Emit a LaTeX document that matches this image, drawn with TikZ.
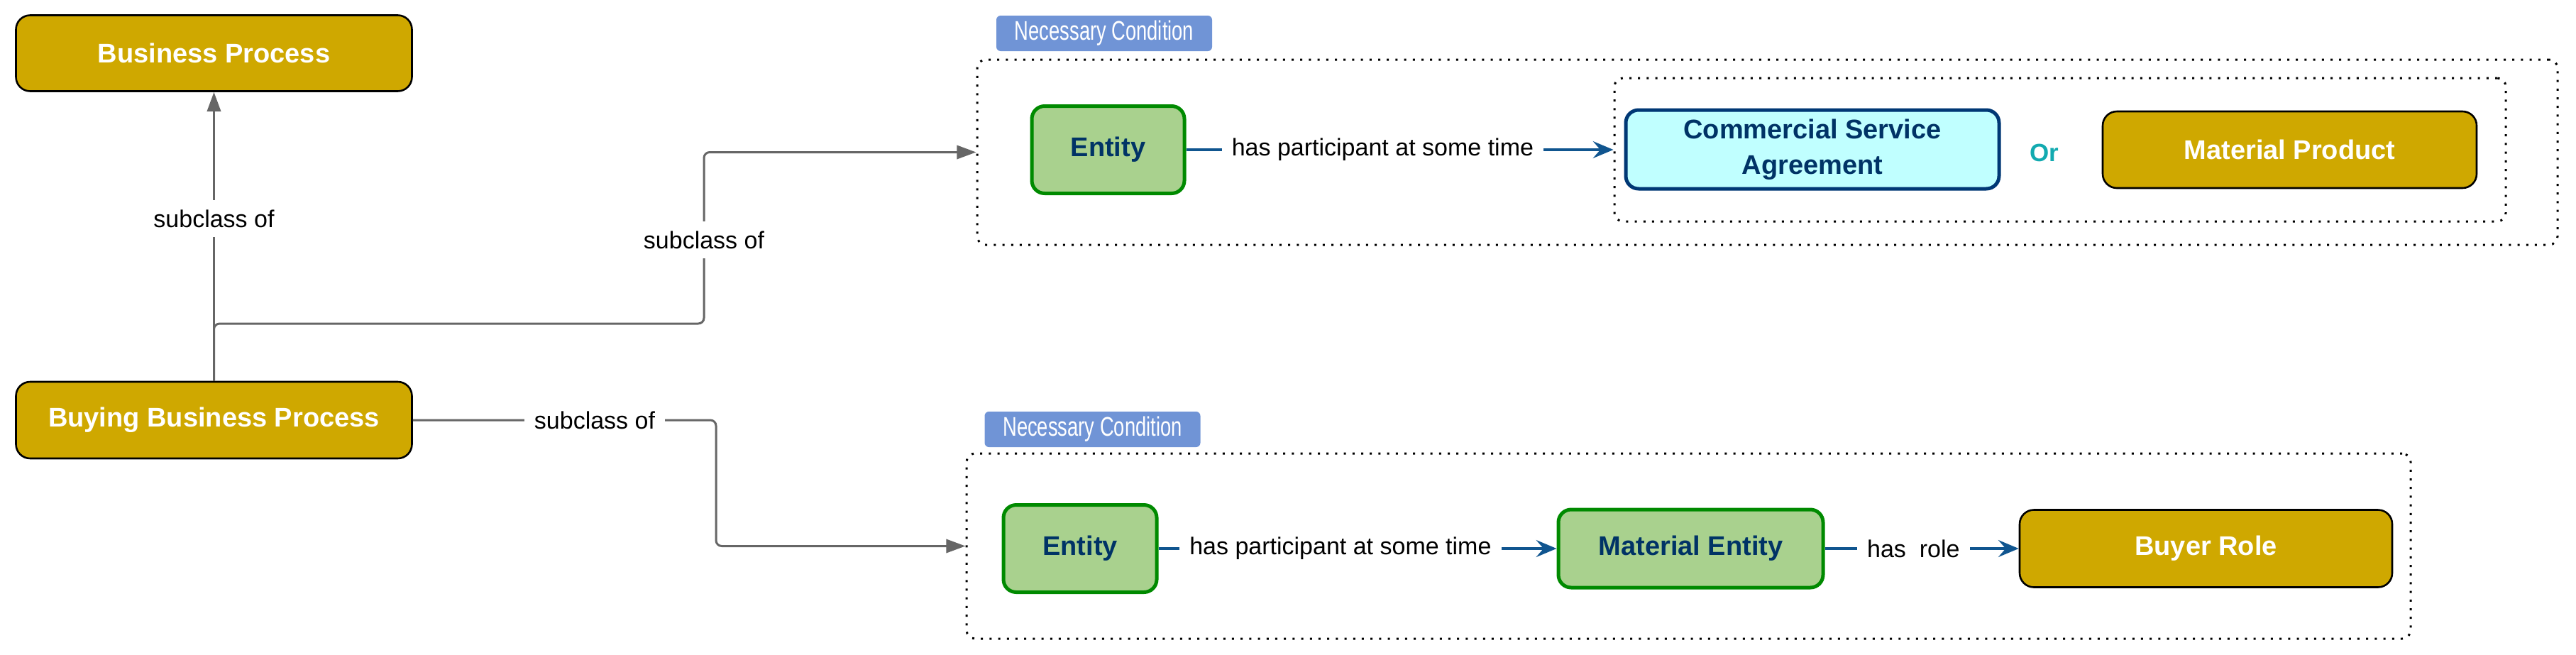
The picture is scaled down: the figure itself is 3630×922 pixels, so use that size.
\documentclass[tikz,border=0pt]{standalone}
\usepackage{fontspec}
\setmainfont{Liberation Sans}
\newfontfamily\condfont[FakeStretch=0.72]{Liberation Sans}
\usetikzlibrary{arrows.meta}
\definecolor{gold}{HTML}{CFA800}
\definecolor{entgreen}{HTML}{008A00}
\definecolor{entfill}{HTML}{A9D18E}
\definecolor{navy}{HTML}{003366}
\definecolor{csafill}{HTML}{C0FFFF}
\definecolor{csaborder}{HTML}{003875}
\definecolor{ncblue}{HTML}{7094D6}
\definecolor{arrowgray}{HTML}{666666}
\definecolor{arrowblue}{HTML}{10558F}
\definecolor{orteal}{HTML}{12AAB0}
\tikzset{
  boxfont/.style={font=\bfseries\fontsize{9.5}{12.5}\selectfont},
  goldbox/.style={draw=black, line width=0.65pt, fill=gold, rounded corners=5pt, text=white, boxfont, inner sep=0pt},
  greenbox/.style={draw=entgreen, line width=1.25pt, fill=entfill, rounded corners=4.5pt, text=navy, boxfont, inner sep=0pt},
  csabox/.style={draw=csaborder, line width=1.25pt, fill=csafill, rounded corners=4.5pt, text=navy, boxfont, align=center, inner sep=0pt},
  dotbox/.style={draw=black, line width=0.75pt, dash pattern=on 0.75pt off 2.3pt, rounded corners=3pt, inner sep=0pt},
  nclabel/.style={fill=ncblue, rounded corners=1.5pt, text=white, font=\condfont\fontsize{9.5}{11}\selectfont, inner sep=0pt},
  grayarrow/.style={draw=arrowgray, line width=0.75pt, -{Triangle[width=4.8pt,length=6.8pt]}, rounded corners=2pt},
  bluearrow/.style={draw=arrowblue, line width=0.8pt, -{Stealth[width=6pt,length=7.2pt,inset=2.6pt]}},
  lbl/.style={fill=white, text=black, font=\fontsize{8.5}{10}\selectfont, inner sep=3.5pt}
}
\begin{document}
\begin{tikzpicture}[x=0.25pt,y=-0.25pt]
\useasboundingbox (0,0) rectangle (3630,922);
% dotted groups
\node[dotbox, minimum width=556.75pt, minimum height=65.25pt] (nc1) at (2490.5,214.5) {};
\node[dotbox, minimum width=314pt, minimum height=50.5pt] (inner) at (2903,211) {};
\node[dotbox, minimum width=508.75pt, minimum height=65.25pt] (nc2) at (2379.5,769.5) {};
\node[nclabel, minimum width=76pt, minimum height=12.5pt] (nc1lbl) at (1556,47) {Necessary Condition};
\node[nclabel, minimum width=76pt, minimum height=12.5pt] (nc2lbl) at (1539.5,605) {Necessary Condition};
% boxes
\node[goldbox, minimum width=139.5pt, minimum height=26.75pt] (bp) at (301.5,75) {Business Process};
\node[goldbox, minimum width=139.5pt, minimum height=27pt] (bbp) at (301.5,592) {Buying Business Process};
\node[greenbox, minimum width=53.75pt, minimum height=30.75pt] (ent1) at (1561.5,211) {Entity};
\node[csabox, minimum width=131.5pt, minimum height=27.75pt] (csa) at (2554,210.5) {Commercial Service\\Agreement};
\node[text=orteal, font=\bfseries\fontsize{8.75}{10}\selectfont, inner sep=0pt] (or) at (2881,215) {Or};
\node[goldbox, minimum width=131.75pt, minimum height=27pt] (mp) at (3226.5,211) {Material Product};
\node[greenbox, minimum width=54pt, minimum height=30.75pt] (ent2) at (1522,773) {Entity};
\node[greenbox, minimum width=93.25pt, minimum height=27.5pt] (me) at (2382.5,773) {Material Entity};
\node[goldbox, minimum width=131.25pt, minimum height=27.25pt] (br) at (3108.5,773) {Buyer Role};
% gray connectors
\coordinate (j1) at (992,456);
\coordinate (j2) at (1009,769.5);
\draw[grayarrow] (bbp.north) -- (bp.south);
\draw[grayarrow] (bbp.north) |- (j1) |- (nc1.west);
\draw[grayarrow] (bbp.east) -| (j2) -- (nc2.west);
\node[lbl] (l1) at (301.5,308) {subclass of};
\node[lbl] (l2) at (992,338) {subclass of};
\node[lbl] (l3) at (838,592) {subclass of};
% blue connectors
\draw[bluearrow] (ent1.east) -- node[lbl, pos=0.46] (l4) {has participant at some time} (inner.west);
\draw[bluearrow] (ent2.east) -- node[lbl, pos=0.457] (l5) {has participant at some time} (me.west);
\draw[bluearrow] (me.east) -- node[lbl, pos=0.457] (l6) {has\ \ role} (br.west);
\end{tikzpicture}
\end{document}
